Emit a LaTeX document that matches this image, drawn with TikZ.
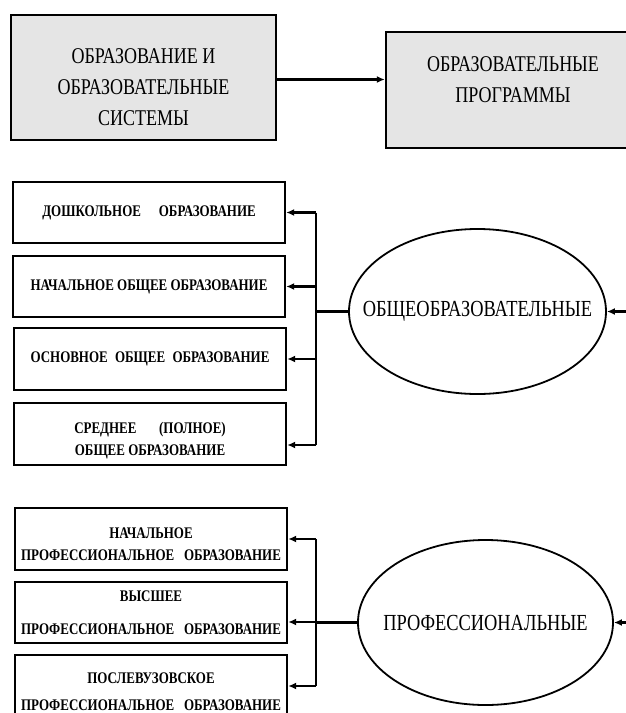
\documentclass[tikz,border=0pt]{standalone}
\usepackage{fontspec}
\setmainfont{Liberation Serif}[FakeStretch=0.8]
\usetikzlibrary{shapes.geometric, arrows.meta}

\tikzset{
  bigbox/.style={draw, line width=2.4pt, fill=gray!20, align=center, inner sep=0pt,
    font=\fontsize{22.5}{31}\selectfont},
  levelbox/.style={draw, line width=2.4pt, fill=white, align=center, inner sep=0pt,
    minimum width=272pt, font=\bfseries\fontsize{16.2}{22}\selectfont},
  oval/.style={ellipse, draw, line width=1.8pt, inner ysep=0pt, inner xsep=-40pt,
    font=\fontsize{23}{26}\selectfont},
  conn/.style={line width=2.1pt},
  arr/.style={conn, ->},
}

\begin{document}
\begin{tikzpicture}[x=1pt, y=-1pt, >={Latex[length=8pt,width=7pt]}]

    % 1. Рамка рисунка
    \useasboundingbox (0,0) rectangle (626,713);

    % 2. Верхние блоки
    \node[bigbox, minimum width=265pt, minimum height=125pt] (sys) at (143.5,77.5)
        {\strut\\[-18pt]ОБРАЗОВАНИЕ И\\ОБРАЗОВАТЕЛЬНЫЕ\\СИСТЕМЫ};
    \node[bigbox, minimum width=254pt, minimum height=116pt] (prog) at (513,90)
        {ОБРАЗОВАТЕЛЬНЫЕ\\ПРОГРАММЫ\\[-20pt]\strut};
    \draw[arr] ([yshift=-2pt]sys.east) -- ([yshift=-2pt]sys.east -| prog.west);

    % 3. Общеобразовательные программы
    \node[oval, minimum width=257pt, minimum height=165pt] (obsh) at (477.5,311.5)
        {ОБЩЕОБРАЗОВАТЕЛЬНЫЕ};
    \node[levelbox, minimum height=61pt] (d1) at (149,212.5)
        {ДОШКОЛЬНОЕ\hspace{1.1em}ОБРАЗОВАНИЕ};
    \node[levelbox, minimum height=61pt] (d2) at (149,286.5)
        {НАЧАЛЬНОЕ ОБЩЕЕ ОБРАЗОВАНИЕ};
    \node[levelbox, minimum height=62pt] (d3) at (150,359)
        {ОСНОВНОЕ\hspace{0.45em}ОБЩЕЕ\hspace{0.45em}ОБРАЗОВАНИЕ};
    \node[levelbox, minimum height=62pt] (d4) at (150,434)
        {\strut\\[-12pt]СРЕДНЕЕ\hspace{1.4em}(ПОЛНОЕ)\\ОБЩЕЕ ОБРАЗОВАНИЕ};

    % 4. Профессиональные программы
    \node[oval, minimum width=255pt, minimum height=165pt] (prof) at (485.5,622.5)
        {ПРОФЕССИОНАЛЬНЫЕ};
    \node[levelbox, minimum height=62pt] (p1) at (151,539)
        {\strut\\[-16pt]НАЧАЛЬНОЕ\\ПРОФЕССИОНАЛЬНОЕ\hspace{0.6em}ОБРАЗОВАНИЕ};
    \node[levelbox, minimum height=61pt] (p2) at (151,612.5)
        {ВЫСШЕЕ\\[11pt]ПРОФЕССИОНАЛЬНОЕ\hspace{0.6em}ОБРАЗОВАНИЕ};
    \node[levelbox, minimum height=62pt] (p3) at (151,686)
        {\strut\\[-15pt]ПОСЛЕВУЗОВСКОЕ\\[5pt]ПРОФЕССИОНАЛЬНОЕ\hspace{0.6em}ОБРАЗОВАНИЕ};

    % 5. Входящие стрелки справа
    \coordinate (inA) at (640,311.5);
    \coordinate (inB) at (640,622.5);
    \draw[arr] (inA) -- (obsh.east);
    \draw[arr] (inB) -- (prof.east);

    % 6. Шины и стрелки к блокам
    \coordinate (busA) at (316,311.5);
    \coordinate (busB) at (316,622.5);
    \coordinate (d4in) at ([yshift=-11pt]d4.east);
    \coordinate (p2in) at ([yshift=-9.5pt]p2.east);

    \draw[conn] (obsh.west) -- (busA);
    \draw[conn] (busA |- d1.east) -- (busA |- d4in);
    \foreach \b in {d1,d2,d3}
        \draw[arr] (busA |- \b.east) -- (\b.east);
    \draw[arr] (busA |- d4in) -- (d4in);

    \draw[conn] (prof.west) -- (busB);
    \draw[conn] (busB |- p1.east) -- (busB |- p3.east);
    \foreach \b in {p1,p3}
        \draw[arr] (busB |- \b.east) -- (\b.east);
    \draw[arr] (busB |- p2in) -- (p2in);

\end{tikzpicture}
\end{document}
